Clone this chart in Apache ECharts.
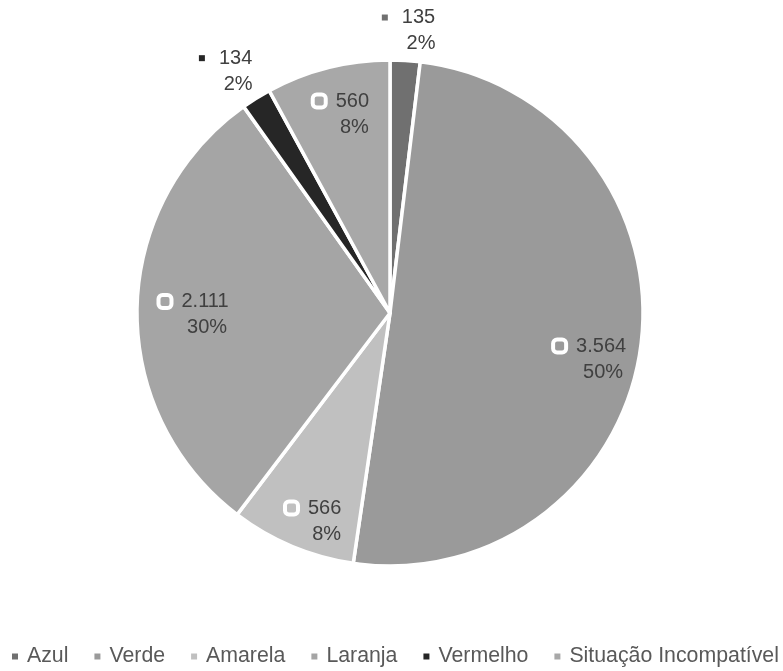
<!DOCTYPE html>
<html><head><meta charset="utf-8">
<script src="https://cdn.jsdelivr.net/npm/echarts@6/dist/echarts.min.js"></script>
<style>html,body{margin:0;padding:0;background:#fff}#c{width:783px;height:671px}</style>
</head><body><div id="c"></div>
<script>
const categories = ['Azul', 'Verde', 'Amarela', 'Laranja', 'Vermelho', 'Situação Incompatível'];
const values = [135, 3564, 566, 2111, 134, 560];
const valueLabels = ['135', '3.564', '566', '2.111', '134', '560'];
const percentLabels = ['2%', '50%', '8%', '30%', '2%', '8%'];
const colors = ['#707070', '#9a9a9a', '#c0c0c0', '#a5a5a5', '#262626', '#a8a8a8'];
const outsideIdx = [0, 4];

const CX = 390, CY = 313, R = 253;
const FONT = 'Liberation Sans, Arial, sans-serif';
const nudge = [[1, 9], [-9, 18], [6, 13], [16, 5], [-10, 6], [4, 6]];

const rich = {
  v: { fontSize: 20, color: '#404040', fontFamily: FONT, lineHeight: 26 },
  sp: { width: 25 },
  g: { width: 12 },
  go: { width: 14 }
};
colors.forEach((c, i) => {
  rich['m' + i] = { width: 9, height: 9, backgroundColor: c, borderColor: '#fff', borderWidth: 4, borderRadius: 2 };
  rich['o' + i] = { width: 6, height: 6, backgroundColor: c };
});

function labelFmt(outside) {
  return function (p) {
    const i = p.dataIndex;
    if (outside) return '{o' + i + '|}{go|}{v|' + valueLabels[i] + '}\n{sp|}{v|' + percentLabels[i] + '}';
    return '{m' + i + '|}{g|}{v|' + valueLabels[i] + '}\n{sp|}{v|' + percentLabels[i] + '}';
  };
}
function layout(p) { const n = nudge[p.dataIndex]; return { dx: n[0], dy: n[1] }; }

const mainData = categories.map((n, i) => ({ name: n, value: values[i], itemStyle: { color: colors[i] } }));
const innerData = categories.map((n, i) => ({ name: n, value: values[i], label: { show: outsideIdx.indexOf(i) < 0 } }));
const outerData = categories.map((n, i) => ({ name: n, value: values[i], label: { show: outsideIdx.indexOf(i) >= 0 } }));

const chart = echarts.init(document.getElementById('c'), null, { renderer: 'canvas' });
chart.setOption({
  animation: false,
  backgroundColor: '#fff',
  legend: {
    data: categories,
    left: 10, top: 646, width: 773, padding: 0,
    itemWidth: 8, itemHeight: 8, itemGap: 24,
    icon: 'rect',
    textStyle: { fontSize: 21.3, color: '#595959', fontFamily: FONT, padding: [0, 0, 0, 3] }
  },
  series: [
    {
      type: 'pie', center: [CX, CY], radius: [0, R], startAngle: 90, clockwise: true,
      silent: true, label: { show: false }, labelLine: { show: false },
      itemStyle: { borderColor: '#fff', borderWidth: 3.5 },
      data: mainData
    },
    {
      type: 'pie', center: [CX, CY], radius: [164, R], startAngle: 90, clockwise: true,
      silent: true, itemStyle: { color: 'rgba(0,0,0,0)' },
      label: { position: 'inside', formatter: labelFmt(false), rich: rich, align: 'center' },
      labelLine: { show: false },
      labelLayout: layout,
      data: innerData
    },
    {
      type: 'pie', center: [CX, CY], radius: [R, 325], startAngle: 90, clockwise: true,
      silent: true, itemStyle: { color: 'rgba(0,0,0,0)' },
      label: { position: 'inside', formatter: labelFmt(true), rich: rich, align: 'center' },
      labelLine: { show: false },
      labelLayout: layout,
      data: outerData
    }
  ]
});
</script></body></html>
